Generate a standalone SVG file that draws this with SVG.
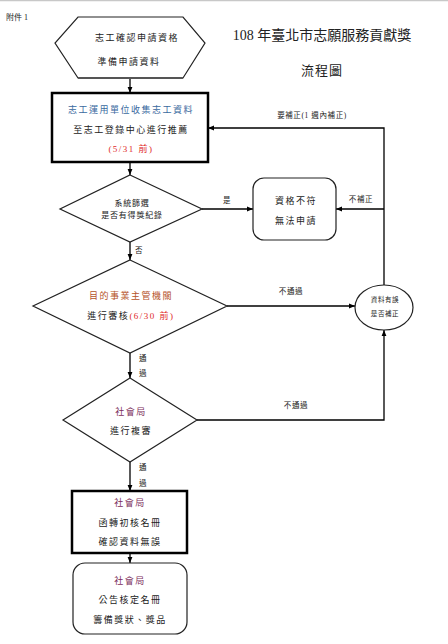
<svg xmlns="http://www.w3.org/2000/svg" width="448" height="644" viewBox="0 0 448 644">
<defs>
<marker id="ah" viewBox="0 0 10 10" refX="10" refY="5" markerWidth="6" markerHeight="6" markerUnits="userSpaceOnUse" orient="auto">
<path d="M0,1 L10,5 L0,9 z" fill="#000"/>
</marker>
</defs>
<style>
text{font-family:"Liberation Serif","Noto Sans CJK TC",serif;dominant-baseline:central;text-anchor:middle;fill:#222}
.t{font-size:9px;letter-spacing:1.5px}
.s{font-size:8px;letter-spacing:0.8px}
.xs{font-size:6.5px;letter-spacing:0.6px}
.lbl{font-size:7.5px;letter-spacing:0.6px}
.blue{fill:#3a6aa0}
.red{fill:#e02828}
.brown{fill:#b5532a}
.pur{fill:#7b2d5a}
.shape{fill:#fff;stroke:#222;stroke-width:1.2}
.thick{fill:#fff;stroke:#000;stroke-width:2.5}
.conn{fill:none;stroke:#000;stroke-width:1.3}
</style>
<rect x="0" y="0" width="448" height="644" fill="#fff"/>
<line x1="0" y1="0.5" x2="448" y2="0.5" stroke="#c8c8c8" stroke-width="1.5"/>
<text x="17" y="17" style="font-size:8px">附件 1</text>
<g id="title">
<text x="322" y="35" style="font-size:14px">108 年臺北市志願服務貢獻獎</text>
<text x="322" y="70" style="font-size:13px;letter-spacing:1px">流程圖</text>
</g>
<g id="connectors">
<line class="conn" x1="130" y1="78" x2="130" y2="93" marker-end="url(#ah)"/>
<line class="conn" x1="130" y1="162" x2="130" y2="175" marker-end="url(#ah)"/>
<line class="conn" x1="202" y1="209" x2="253" y2="209" marker-end="url(#ah)"/>
<text class="lbl" x="227" y="200">是</text>
<line class="conn" x1="130" y1="242" x2="130" y2="260" marker-end="url(#ah)"/>
<text class="lbl" x="139" y="250">否</text>
<line class="conn" x1="227" y1="306" x2="355" y2="306" marker-end="url(#ah)"/>
<text class="lbl" x="291" y="291">不通過</text>
<line class="conn" x1="130" y1="353" x2="130" y2="378" marker-end="url(#ah)"/>
<text class="lbl" x="143" y="358">通</text>
<text class="lbl" x="143" y="373">過</text>
<polyline class="conn" points="197,420 384,420 384,330" marker-end="url(#ah)"/>
<text class="lbl" x="296" y="405">不通過</text>
<line class="conn" x1="130" y1="462" x2="130" y2="491" marker-end="url(#ah)"/>
<text class="lbl" x="143" y="467">通</text>
<text class="lbl" x="143" y="483">過</text>
<line class="conn" x1="130" y1="553" x2="130" y2="563" marker-end="url(#ah)"/>
<polyline class="conn" points="384,285 384,128 208,128" marker-end="url(#ah)"/>
<text class="lbl" x="312" y="115">要補正(1 週內補正)</text>
<line class="conn" x1="384" y1="209" x2="336" y2="209" marker-end="url(#ah)"/>
<text class="lbl" x="361" y="199">不補正</text>
</g>
<g id="n1">
<polygon class="shape" points="78,17 183,17 205,43 183,78 78,78 55,43"/>
<line x1="78" y1="78" x2="183" y2="78" stroke="#555" stroke-width="2"/>
<text class="t" x="137" y="38">志工確認申請資格</text>
<text class="t" x="129" y="62">準備申請資料</text>
</g>
<g id="n2">
<rect class="thick" x="52" y="93" width="156" height="69"/>
<text class="t blue" x="131" y="110">志工運用單位收集志工資料</text>
<text class="t" x="131" y="130">至志工登錄中心進行推薦</text>
<text class="t red" x="131" y="149">(5/31 前)</text>
</g>
<g id="n3">
<polygon class="shape" points="130,175 202,209 130,242 60,209"/>
<text class="s" x="132" y="203">系統篩選</text>
<text class="s" x="132" y="215">是否有得獎紀錄</text>
</g>
<g id="n4">
<rect class="shape" x="253" y="178" width="83" height="62" rx="11"/>
<text class="t" x="296" y="201">資格不符</text>
<text class="t" x="296" y="221">無法申請</text>
</g>
<g id="n5">
<polygon class="shape" points="130,260 227,306 130,353 33,306"/>
<text class="t brown" x="131" y="296">目的事業主管機關</text>
<text class="t" x="131" y="316"><tspan>進行審核</tspan><tspan class="red">(6/30 前)</tspan></text>
</g>
<g id="n6">
<ellipse class="shape" cx="384" cy="307.5" rx="29" ry="22.5"/>
<text class="xs" x="385" y="299">資料有誤</text>
<text class="xs" x="385" y="313">是否補正</text>
</g>
<g id="n7">
<polygon class="shape" points="130,378 197,420 130,462 63,420"/>
<text class="t pur" x="131" y="412">社會局</text>
<text class="t" x="131" y="431">進行複審</text>
</g>
<g id="n8">
<rect class="thick" x="72" y="491" width="115" height="62"/>
<text class="t pur" x="130" y="503">社會局</text>
<text class="t" x="130" y="523">函轉初核名冊</text>
<text class="t" x="130" y="542">確認資料無誤</text>
</g>
<g id="n9">
<rect class="shape" x="73" y="563" width="114" height="71" rx="12"/>
<text class="t pur" x="130" y="581">社會局</text>
<text class="t" x="130" y="600">公告核定名冊</text>
<text class="t" x="130" y="620">籌備獎狀、獎品</text>
</g>
</svg>
